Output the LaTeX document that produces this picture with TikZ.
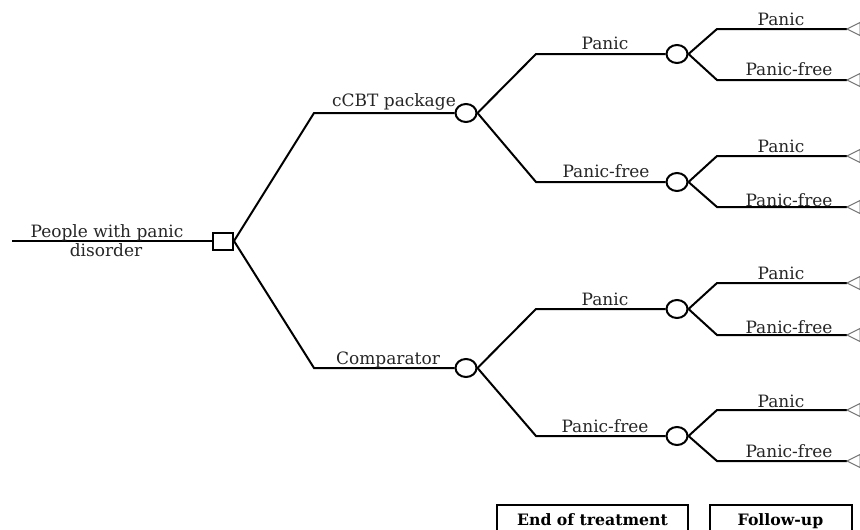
\documentclass[tikz,border=0pt]{standalone}
\usepackage{fontspec}
\setmainfont{DejaVu Serif}
\usetikzlibrary{shapes.geometric}
\begin{document}
\begin{tikzpicture}[x=1pt,y=-1pt,
  line width=2pt,
  dec/.style={draw, rectangle, minimum width=20pt, minimum height=17pt, inner sep=0pt, line width=2pt},
  chance/.style={draw, ellipse, minimum width=21pt, minimum height=18pt, inner sep=0pt, line width=2pt},
  lbl/.style={anchor=base, inner sep=0pt, font=\fontsize{17}{20}\selectfont, text=black!85},
  term/.style={draw=black!55, line width=1pt},
  phase/.style={draw, line width=2pt, anchor=north, inner xsep=0pt, inner ysep=9pt, font=\bfseries\fontsize{15.7}{18}\selectfont}
]
\clip (0,0) rectangle (860,530);
\fill[white] (0,0) rectangle (860,530);

% root
\coordinate (r0) at (12,241);
\node[dec] (sq) at (223,241) {};
\draw (r0) -- (sq.west);
\node[lbl] (lroot1) at (107,237) {People with panic};
\node[lbl] (lroot2) at (106,256) {disorder};

% level 1
\coordinate (eA) at (314,113);
\coordinate (eB) at (314,368);
\node[chance] (cA) at (466,113) {};
\node[chance] (cB) at (466,368) {};
\draw (sq.east) -- (eA) -- (cA.west);
\draw (sq.east) -- (eB) -- (cB.west);
\node[lbl] (lA) at (394,106) {cCBT package};
\node[lbl] (lB) at (388,364) {Comparator};

% level 2
\coordinate (e1) at (536,54);
\coordinate (e2) at (536,182);
\coordinate (e3) at (536,309);
\coordinate (e4) at (536,436);
\node[chance] (c1) at (677,54) {};
\node[chance] (c2) at (677,182) {};
\node[chance] (c3) at (677,309) {};
\node[chance] (c4) at (677,436) {};
\draw (cA.east) -- (e1) -- (c1.west);
\draw (cA.east) -- (e2) -- (c2.west);
\draw (cB.east) -- (e3) -- (c3.west);
\draw (cB.east) -- (e4) -- (c4.west);
\node[lbl] (l1) at (605,49) {Panic};
\node[lbl] (l2) at (606,177) {Panic-free};
\node[lbl] (l3) at (605,305) {Panic};
\node[lbl] (l4) at (605,432) {Panic-free};

% level 3
\coordinate (f1) at (717,29);  \coordinate (t1) at (847,29);
\coordinate (f2) at (717,80);  \coordinate (t2) at (847,80);
\coordinate (f3) at (717,156); \coordinate (t3) at (847,156);
\coordinate (f4) at (717,207); \coordinate (t4) at (847,207);
\coordinate (f5) at (717,283); \coordinate (t5) at (847,283);
\coordinate (f6) at (717,335); \coordinate (t6) at (847,335);
\coordinate (f7) at (717,410); \coordinate (t7) at (847,410);
\coordinate (f8) at (717,461); \coordinate (t8) at (847,461);
\draw (c1.east) -- (f1) -- (t1);
\draw (c1.east) -- (f2) -- (t2);
\draw (c2.east) -- (f3) -- (t3);
\draw (c2.east) -- (f4) -- (t4);
\draw (c3.east) -- (f5) -- (t5);
\draw (c3.east) -- (f6) -- (t6);
\draw (c4.east) -- (f7) -- (t7);
\draw (c4.east) -- (f8) -- (t8);
\foreach \t in {t1,t2,t3,t4,t5,t6,t7,t8}{
  \draw[term] (\t) -- ++(13,-6.5) -- ++(0,13) -- cycle;
}
\node[lbl] (m1) at (781,25) {Panic};
\node[lbl] (m2) at (789,75) {Panic-free};
\node[lbl] (m3) at (781,152) {Panic};
\node[lbl] (m4) at (789,206) {Panic-free};
\node[lbl] (m5) at (781,279) {Panic};
\node[lbl] (m6) at (789,333) {Panic-free};
\node[lbl] (m7) at (781,407) {Panic};
\node[lbl] (m8) at (789,457) {Panic-free};

% phase boxes
\node[phase, minimum width=191pt] (p1) at (592.5,504) {End of treatment};
\node[phase, minimum width=142pt] (p2) at (780.5,504) {Follow-up};
\end{tikzpicture}
\end{document}
